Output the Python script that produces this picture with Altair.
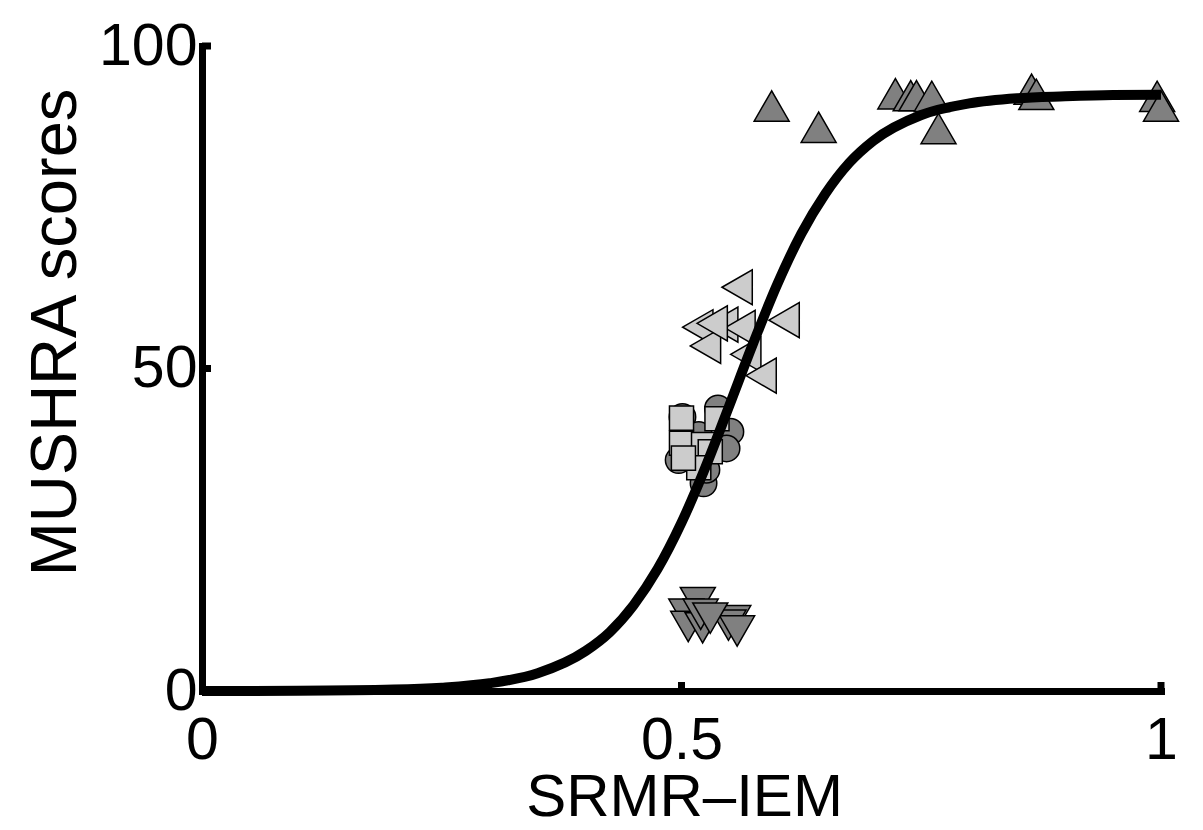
import altair as alt
import pandas as pd

# ---- data ----
circ_x = [0.501, 0.538, 0.551, 0.547, 0.497, 0.523, 0.518, 0.526]
circ_y = [42.5, 43.8, 40.2, 37.6, 35.8, 32.2, 39.7, 34.3]

sq_x = [0.500, 0.537, 0.500, 0.523, 0.530, 0.518, 0.502]
sq_y = [42.3, 42.2, 38.4, 38.2, 37.1, 34.6, 36.1]

down_x = [0.517, 0.505, 0.507, 0.522, 0.520, 0.554, 0.549, 0.558, 0.530]
down_y = [13.7, 11.9, 10.0, 9.8, 11.9, 10.9, 10.2, 9.3, 11.3]

left_x = [0.558, 0.517, 0.525, 0.543, 0.561, 0.607, 0.567, 0.583, 0.532]
left_y = [62.6, 56.4, 53.5, 56.8, 56.3, 57.5, 52.2, 48.9, 57.0]

up_x = [0.594, 0.643, 0.723, 0.739, 0.745, 0.761, 0.768, 0.865, 0.870, 0.996, 1.000]
up_y = [90.7, 87.4, 92.6, 92.3, 92.3, 92.2, 87.2, 93.3, 92.5, 92.2, 90.7]

curve_x = [0.0, 0.1, 0.2, 0.25, 0.3, 0.35, 0.4, 0.425, 0.45, 0.475, 0.5, 0.525,
           0.55, 0.575, 0.6, 0.625, 0.65, 0.675, 0.7, 0.75, 0.8, 0.85, 0.9, 0.95, 1.0]
curve_y = [0.0, 0.04, 0.22, 0.52, 1.2, 2.75, 6.2, 9.1, 13.3, 18.9, 26.1, 34.7,
           44.3, 54.0, 63.1, 70.9, 77.1, 81.9, 85.3, 89.3, 91.1, 91.9, 92.2, 92.4, 92.45]

x_ticks = [0.5, 1.0]
y_ticks = [50, 100]

FONT = "Liberation Sans"
DARK = "#808080"
LIGHT = "#cccccc"

xs = alt.Scale(domain=[0, 1], nice=False, zero=False)
ys = alt.Scale(domain=[0, 100], nice=False, zero=False)

x_axis = alt.Axis(values=[0, 0.5, 1], format="~g", title="SRMR–IEM",
                  labelFlush=False, labelOverlap=False, labelPadding=20,
                  labelBaseline="top", titleX=482, titleY=124,
                  titleBaseline="alphabetic", titleFontSize=60)
y_axis = alt.Axis(values=[0, 50, 100], format="d", title="MUSHRA scores",
                  labelFlush=False, labelOverlap=False, labelPadding=5,
                  labelBaseline="middle", titleX=-127, titleY=286,
                  titleBaseline="alphabetic", titleFontSize=65, titleAngle=-90)

def pts(xv, yv):
    return pd.DataFrame({"x": xv, "y": yv})

def markers(xv, yv, shape, fill, size):
    return alt.Chart(pts(xv, yv)).mark_point(
        shape=shape, filled=True, fill=fill, stroke="black", strokeWidth=1.5,
        size=size, opacity=1, fillOpacity=1, strokeOpacity=1
    ).encode(x=alt.X("x:Q", scale=xs, axis=x_axis), y=alt.Y("y:Q", scale=ys, axis=y_axis))

circles = markers(circ_x, circ_y, "circle", DARK, 700)
squares = markers(sq_x, sq_y, "square", LIGHT, 580)
downs = markers(down_x, down_y, "triangle-down", DARK, 1225)
lefts = markers(left_x, left_y, "triangle-left", LIGHT, 1225)
ups = markers(up_x, up_y, "triangle-up", DARK, 1225)

curve = alt.Chart(pts(curve_x, curve_y)).mark_line(
    color="black", strokeWidth=10, interpolate="monotone"
).encode(x=alt.X("x:Q", scale=xs), y=alt.Y("y:Q", scale=ys))

xt = alt.Chart(pd.DataFrame({"x": x_ticks})).mark_rule(
    color="black", strokeWidth=7
).encode(x=alt.X("x:Q", scale=xs), y=alt.value(645), y2=alt.value(636))

yt = alt.Chart(pd.DataFrame({"y": y_ticks})).mark_rule(
    color="black", strokeWidth=7
).encode(y=alt.Y("y:Q", scale=ys), x=alt.value(0), x2=alt.value(9))

chart = alt.layer(circles, squares, downs, lefts, ups, curve, xt, yt).properties(
    width=959, height=645,
    autosize=alt.AutoSizeParams(type="none"),
    padding={"left": 202, "top": 46, "right": 42, "bottom": 139},
    background="white",
).configure_view(stroke=None).configure_axis(
    grid=False, ticks=False, tickSize=0, domainColor="black", domainWidth=7,
    domainCap="square",
    labelFont=FONT, labelFontSize=59, labelColor="black",
    titleFont=FONT, titleColor="black", titleFontWeight="normal",
)

chart.save("out.html", embed_options={"renderer": "svg", "actions": False})
